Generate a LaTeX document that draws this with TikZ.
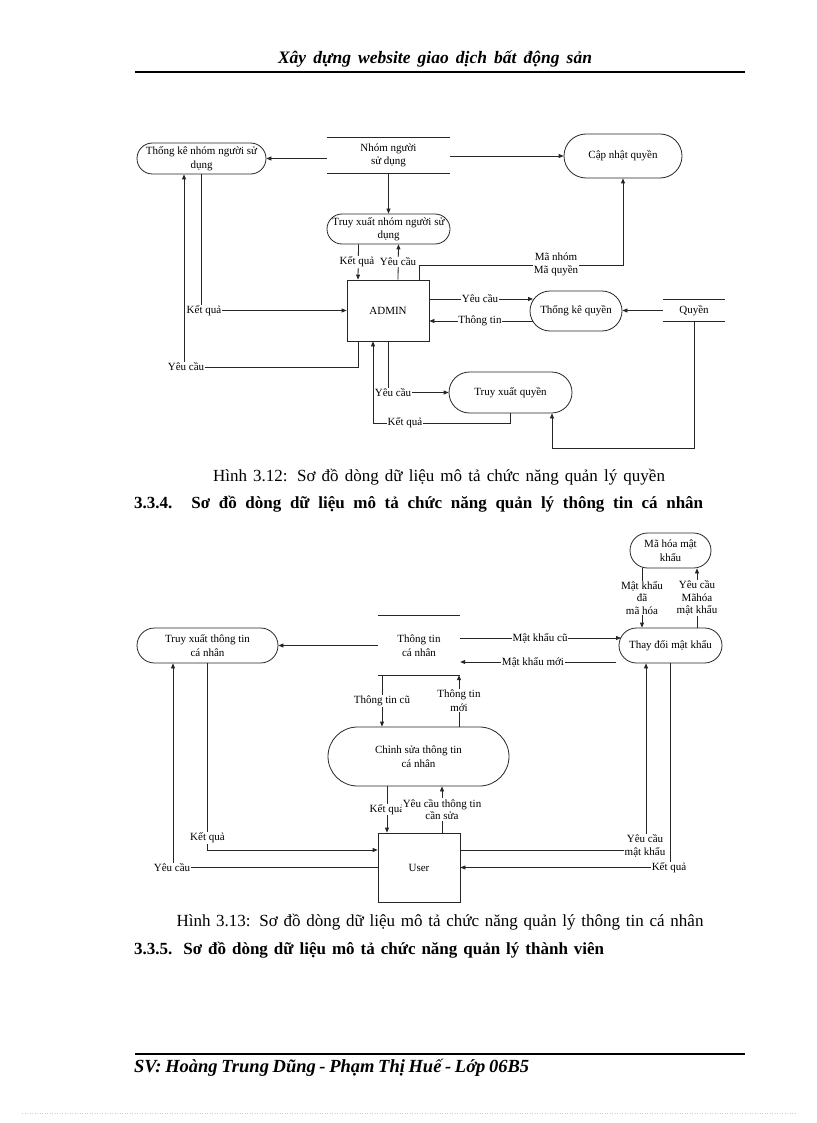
\documentclass[tikz,border=0pt]{standalone}
\usepackage{fontspec}
\setmainfont{Liberation Serif}
\usetikzlibrary{arrows.meta}
\newcommand\dg{\fontsize{11}{13.5}\selectfont}
\newcommand\dgs{\fontsize{11}{12.5}\selectfont}
\begin{document}
\begin{tikzpicture}[x=1pt,y=-1pt,
  every node/.style={font=\dg, inner sep=0pt, align=center},
  proc/.style={draw=black!85, line width=0.8pt, rounded corners=#1},
  ent/.style={draw=black!85, line width=0.8pt},
  ln/.style={line width=0.8pt, draw=black!85},
  arr/.style={ln, -{Triangle[length=5pt,width=4pt]}},
  lbl/.style={fill=white, inner sep=0.8pt},
  hdr/.style={font=\fontsize{17.5}{20}\selectfont\bfseries\itshape},
  ftr/.style={font=\fontsize{18.5}{21}\selectfont\bfseries\itshape, anchor=west},
  figcap/.style={font=\fontsize{17}{20}\selectfont},
  sec/.style={font=\fontsize{17}{20}\selectfont\bfseries, anchor=west},
]
\useasboundingbox (0,0) rectangle (816,1123);
\fill[white] (0,0) rectangle (816,1123);

% page header and footer
\node[hdr] (head) at (435,59) {\makebox[314pt][s]{Xây dựng website giao dịch bất động sản}};
\draw[line width=2pt] (135,72) -- (745,72);
\draw[line width=2pt] (135,1054) -- (745,1054);
\node[ftr] (foot) at (134,1068) {\makebox[395pt][s]{SV: Hoàng Trung Dũng - Phạm Thị Huế - Lớp 06B5}};
\draw[gray!40, dotted, line width=0.5pt] (22,1113) -- (796,1113);

% ================= Figure 3.12 =================
\node[proc=15.5pt, minimum width=129pt, minimum height=31pt] (tkn) at (201.5,158.5) {Thống kê nhóm người sử\\dụng};
\node[minimum width=123pt, minimum height=35pt] (nhom) at (388.5,155.5) {Nhóm người\\sử dụng};
\draw[ln] (nhom.north west) -- (nhom.north east) (nhom.south west) -- (nhom.south east);
\node[proc=22pt, minimum width=118pt, minimum height=44pt] (cnq) at (623,156) {Cập nhật quyền};
\node[proc=15pt, minimum width=123pt, minimum height=30pt] (txn) at (388.5,229) {Truy xuất nhóm người sử\\dụng};
\node[ent, minimum width=82pt, minimum height=61pt] (admin) at (388,310.5) {ADMIN};
\node[proc=20pt, minimum width=92pt, minimum height=40pt] (tkq) at (576,311) {Thống kê quyền};
\node[minimum width=62pt, minimum height=21pt] (quyen) at (694,310.5) {Quyền};
\draw[ln] (quyen.north west) -- (quyen.north east) (quyen.south west) -- (quyen.south east);
\node[proc=20.5pt, minimum width=123pt, minimum height=41pt] (txq) at (510.5,392.5) {Truy xuất quyền};

\coordinate (m1) at (623,265);
\coordinate (c1) at (184,367);
\coordinate (a1) at (533,299);
\coordinate (a2) at (533,321);
\coordinate (c2) at (552,448);
\coordinate (c3) at (373,423);

\draw[arr] (nhom.west |- tkn.east) -- (tkn.east);
\draw[arr] (nhom.east |- cnq.west) -- (cnq.west);
\draw[arr] (nhom.south) -- (txn.north);
\draw[arr] ([xshift=-30pt]txn.south) -- ([xshift=-30pt]admin.north);
\node[lbl] at (357,262) {Kết quả};
\draw[arr] ([xshift=10pt]admin.north) -- ([xshift=10pt]txn.south);
\node[lbl] at (398,262) {\vphantom{ế}Yêu cầu};
\draw[arr] ([xshift=31pt]admin.north) |- (m1) -- (cnq.south);
\node[lbl] at (556,264.5) {Mã nhóm\\Mã quyền};
\draw[arr] (tkn.south) |- (admin.west);
\node[lbl] at (204,310.5) {Kết quả};
\draw[arr] ([xshift=-30pt]admin.south) |- (c1) -- (c1 |- tkn.south);
\node[lbl] at (186,367) {Yêu cầu};
\draw[arr] (admin.east |- a1) -- (a1);
\node[lbl] at (480,299) {Yêu cầu};
\draw[arr] (a2) -- (admin.east |- a2);
\node[lbl] at (480,321) {Thông tin};
\draw[arr] (quyen.west) -- (quyen.west -| tkq.east);
\draw[arr] (quyen.south) |- (c2) -- (c2 |- txq.south);
\draw[arr] (admin.south) |- (txq.west);
\node[lbl] at (393,392.5) {Yêu cầu};
\draw[arr] (txq.south) |- (c3) -- (c3 |- admin.south);
\node[lbl] at (405,423) {Kết quả};

\node[figcap] (cap1) at (439,477) {\makebox[452pt][s]{Hình 3.12: Sơ đồ dòng dữ liệu mô tả chức năng quản lý quyền}};
\node[sec] (sec1) at (134,504) {\makebox[569pt][s]{3.3.4. Sơ đồ dòng dữ liệu mô tả chức năng quản lý thông tin cá nhân}};

% ================= Figure 3.13 =================
\node[proc=17.5pt, minimum width=81pt, minimum height=35pt] (mhm) at (670.5,550.5) {Mã hóa mật\\khẩu};
\node[proc=17.5pt, minimum width=103pt, minimum height=35pt] (tdm) at (670.5,645.5) {Thay đổi mật khẩu};
\node[minimum width=82pt, minimum height=59pt] (ttcn) at (419,645.5) {Thông tin\\cá nhân};
\draw[ln] (ttcn.north west) -- (ttcn.north east) (ttcn.south west) -- (ttcn.south east);
\node[proc=17.5pt, minimum width=141pt, minimum height=35pt] (txt) at (207.5,645.5) {Truy xuất thông tin\\cá nhân};
\node[proc=29.5pt, minimum width=181pt, minimum height=59pt] (css) at (418.5,756.5) {Chỉnh sửa thông tin\\cá nhân};
\node[ent, minimum width=82pt, minimum height=69pt] (user) at (419,867.5) {User};

\coordinate (e1) at (621,638);
\coordinate (e2) at (616,662);

\draw[arr] ([xshift=-28.5pt]mhm.south) -- ([xshift=-28.5pt]tdm.north) node[lbl, midway, font=\dgs] {Mật khẩu\\đã\\mã hóa};
\draw[arr] ([xshift=26.5pt]tdm.north) -- ([xshift=26.5pt]mhm.south) node[lbl, midway, font=\dgs] {Yêu cầu\\Mãhóa\\mật khẩu};
\draw[arr] (ttcn.west) -- (ttcn.west -| txt.east);
\draw[arr] (ttcn.east |- e1) -- (e1);
\node[lbl] at (540,638) {Mật khẩu cũ};
\draw[arr] (e2) -- (e2 -| ttcn.east);
\node[lbl] at (533,662) {Mật khẩu mới};
\draw[arr] ([xshift=-37pt]ttcn.south) -- ([xshift=-36.5pt]css.north) node[lbl, midway] {Thông tin cũ};
\draw[arr] ([xshift=40.5pt]css.north) -- ([xshift=40pt]ttcn.south) node[lbl, midway] {Thông tin\\mới};
\draw[arr] ([xshift=-31.5pt]css.south) -- ([xshift=-32pt]user.north) node[lbl, midway] {Kết quả};
\draw[arr] ([xshift=23pt]user.north) -- ([xshift=23.5pt]css.south) node[lbl, midway, font=\dgs] {Yêu cầu thông tin\\cần sửa};
\draw[arr] (txt.south) |- ([yshift=17.5pt]user.west);
\node[lbl] at (207.5,838) {Kết quả};
\draw[arr] (user.west) -| ([xshift=-34.5pt]txt.south);
\node[lbl] at (172,867.5) {Yêu cầu};
\draw[arr] ([yshift=17.5pt]user.east) -| ([xshift=-24.5pt]tdm.south);
\node[lbl, font=\dgs] at (645,846) {Yêu cầu\\mật khẩu};
\draw[arr] (tdm.south) |- (user.east);
\node[lbl] at (669,867.5) {Kết quả};

\node[figcap] (cap2) at (440,922) {\makebox[527pt][s]{Hình 3.13: Sơ đồ dòng dữ liệu mô tả chức năng quản lý thông tin cá nhân}};
\node[sec] (sec2) at (134,950) {\makebox[470pt][s]{3.3.5. Sơ đồ dòng dữ liệu mô tả chức năng quản lý thành viên}};
\end{tikzpicture}
\end{document}
